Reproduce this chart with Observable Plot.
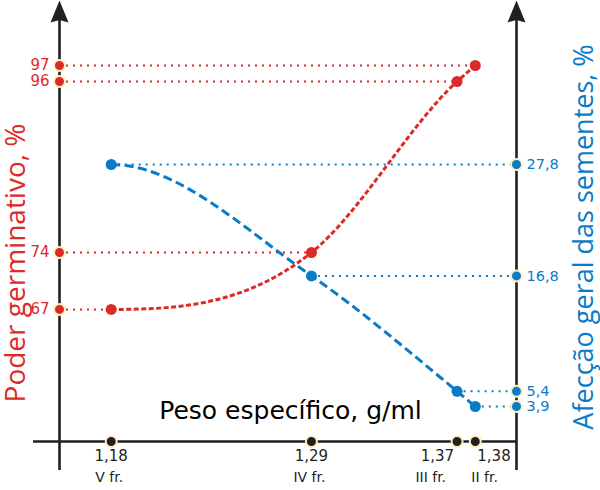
<!DOCTYPE html>
<html><head><meta charset="utf-8">
<script src="https://cdn.jsdelivr.net/npm/d3@7"></script>
<script src="https://cdn.jsdelivr.net/npm/@observablehq/plot@0.6"></script>
<style>body{margin:0;background:#fff}</style>
</head><body><div id="chart"></div>
<script>
// ---- data ----
const densities = [1.18, 1.29, 1.37, 1.38];
const densityLabels = ["1,18", "1,29", "1,37", "1,38"];
const fractions = ["V fr.", "IV fr.", "III fr.", "II fr."];
const germination = [67, 74, 96, 97];
const germinationLabels = ["67", "74", "96", "97"];
const affection = [27.8, 16.8, 5.4, 3.9];
const affectionLabels = ["27,8", "16,8", "5,4", "3,9"];
const xTitle = "Peso específico, g/ml";
const yLeftTitle = "Poder germinativo, %";
const yRightTitle = "Afecção geral das sementes, %";

// ---- styles ----
const RED = "#dc2a27", BLUE = "#0a7bc6", HALO = "#fbefc0", INK = "#231f20";
const FONT = "'DejaVu Sans', sans-serif";
const TFONT = "'Open Sans', sans-serif";

// ---- scales (the original drawing is not strictly to scale: piecewise left axis) ----
const xDomain = [1.15159, 1.40265], xRange = [59, 516];
const yKnots = [47.2, 74, 96, 101.06], yPx = [470, 252, 81, 0];
const rightDomain = [3.9, 27.8], rightPx = [406, 164];
const yScale = d3.scaleLinear().domain(yKnots).range(yPx);
const rightScale = d3.scaleLinear().domain(rightDomain).range(rightPx);
const toLeft = v => yScale.invert(rightScale(v));   // right-axis value -> left units
const xAxisLevel = yScale.invert(441);
const yArrowBase = yScale.invert(18);
const yBottom = yKnots[0], yTop = yKnots[yKnots.length - 1];
const xMin = xDomain[0], xMax = xDomain[1];
const xAxisStart = d3.scaleLinear().domain(xDomain).range(xRange).invert(33);

const rows = densities.map((d, i) => ({
  d, g: germination[i], a: toLeft(affection[i]),
  dl: densityLabels[i], fr: fractions[i], gl: germinationLabels[i], al: affectionLabels[i]
}));

const arrowSymbol = {
  draw(ctx) {
    ctx.moveTo(0, 0);
    ctx.lineTo(9, 22);
    ctx.lineTo(0, 19.5);
    ctx.lineTo(-9, 22);
    ctx.closePath();
  }
};

// smooth curve through the points: horizontal start, three-point slopes inside
function smoothCurve(context) {
  let pts;
  return {
    areaStart() {}, areaEnd() {},
    lineStart() { pts = []; },
    point(x, y) { pts.push([+x, +y]); },
    lineEnd() {
      const n = pts.length; if (!n) return;
      context.moveTo(pts[0][0], pts[0][1]);
      if (n === 1) return;
      const h = [], s = [];
      for (let i = 0; i < n - 1; i++) { h[i] = pts[i + 1][0] - pts[i][0]; s[i] = (pts[i + 1][1] - pts[i][1]) / h[i]; }
      const m = new Array(n);
      m[0] = 0; m[n - 1] = s[n - 2];
      for (let i = 1; i < n - 1; i++) m[i] = (h[i] * s[i - 1] + h[i - 1] * s[i]) / (h[i - 1] + h[i]);
      for (let i = 0; i < n - 1; i++) {
        const [x0, y0] = pts[i], [x1, y1] = pts[i + 1], k = h[i] / 3;
        context.bezierCurveTo(x0 + k, y0 + m[i] * k, x1 - k, y1 - m[i + 1] * k, x1, y1);
      }
    }
  };
}

const plot = Plot.plot({
  width: 600, height: 490,
  marginTop: 0, marginRight: 0, marginBottom: 0, marginLeft: 0,
  style: {fontFamily: FONT, background: "#fff", overflow: "visible"},
  x: {domain: xDomain, range: xRange, axis: null},
  // piecewise left axis: values are warped by yScale, then laid out linearly
  y: {transform: yScale, domain: [yPx[0], yPx[yPx.length - 1]], range: [yPx[0], yPx[yPx.length - 1]], axis: null},
  marks: [
    // guide lines
    Plot.ruleY(rows, {y: "g", x1: xMin, x2: "d", stroke: RED, strokeWidth: 2, strokeDasharray: "2,5", ariaLabel: "guide-red"}),
    Plot.ruleY(rows, {y: "a", x1: "d", x2: xMax, stroke: BLUE, strokeWidth: 2, strokeDasharray: "2,5", ariaLabel: "guide-blue"}),
    // axes
    Plot.ruleX([xMin, xMax], {y1: yBottom, y2: yArrowBase, stroke: INK, strokeWidth: 2.6}),
    Plot.ruleY([xAxisLevel], {x1: xAxisStart, x2: xMax, stroke: INK, strokeWidth: 2.6}),
    Plot.dot([xMin, xMax], {x: d => d, y: yTop, symbol: arrowSymbol, fill: INK, stroke: "none"}),
    // curves
    Plot.line(rows, {x: "d", y: "a", stroke: BLUE, strokeWidth: 3, strokeDasharray: "9,4.5", strokeLinecap: "butt", curve: smoothCurve}),
    Plot.line(rows, {x: "d", y: "g", stroke: RED, strokeWidth: 3, strokeDasharray: "5,2.5", strokeLinecap: "butt", curve: smoothCurve}),
    Plot.dot(rows, {x: "d", y: "a", r: 5.5, fill: BLUE}),
    Plot.dot(rows, {x: "d", y: "g", r: 5.5, fill: RED}),
    // axis dots
    Plot.dot(rows, {x: xMin, y: "g", r: 5.5, fill: RED, stroke: HALO, strokeWidth: 2}),
    Plot.dot(rows, {x: xMax, y: "a", r: 5.5, fill: BLUE, stroke: HALO, strokeWidth: 2}),
    Plot.dot(rows, {x: "d", y: xAxisLevel, r: 5.5, fill: INK, stroke: HALO, strokeWidth: 2}),
    // axis labels
    Plot.text(rows, {x: xMin, y: "g", text: "gl", textAnchor: "end", dx: -10, fill: RED, fontSize: 15}),
    Plot.text(rows, {x: xMax, y: "a", text: "al", textAnchor: "start", dx: 10, fill: BLUE, fontSize: 14.5}),
    Plot.text(rows.slice(0, 2), {x: "d", y: xAxisLevel, text: "dl", dy: 15, fill: INK, fontSize: 15}),
    Plot.text(rows.slice(2, 3), {x: "d", y: xAxisLevel, text: "dl", textAnchor: "end", dx: -3, dy: 15, fill: INK, fontSize: 15}),
    Plot.text(rows.slice(3, 4), {x: "d", y: xAxisLevel, text: "dl", textAnchor: "start", dx: 2, dy: 15, fill: INK, fontSize: 15}),
    Plot.text(rows.slice(0, 2), {x: "d", y: xAxisLevel, text: "fr", dx: -2, dy: 36, fill: INK, fontSize: 14}),
    Plot.text(rows.slice(2, 3), {x: "d", y: xAxisLevel, text: "fr", textAnchor: "end", dx: -11, dy: 36, fill: INK, fontSize: 14}),
    Plot.text(rows.slice(3, 4), {x: "d", y: xAxisLevel, text: "fr", textAnchor: "start", dx: -4, dy: 36, fill: INK, fontSize: 14}),
    // titles
    Plot.text([xTitle], {frameAnchor: "bottom", textAnchor: "middle", lineAnchor: "middle", dx: -10, dy: -80, text: d => d, fill: "#000", fontSize: 25, fontFamily: FONT}),
    Plot.text([yLeftTitle], {frameAnchor: "left", textAnchor: "middle", lineAnchor: "middle", dx: 16, dy: 17.5, rotate: -90, text: d => d, fill: RED, fontSize: 28, fontFamily: TFONT}),
    Plot.text([yRightTitle], {frameAnchor: "right", textAnchor: "middle", lineAnchor: "middle", dx: -16, dy: -8.5, rotate: -90, text: d => d, fill: BLUE, fontSize: 27, fontFamily: TFONT})
  ]
});

// fading gradients for the dotted guide lines
const svg = d3.select(plot);
const defs = svg.insert("defs", ":first-child");
function fade(label, color, fromAxisLeft) {
  svg.selectAll(`g[aria-label="${label}"] line`).each(function(_, i) {
    const ln = d3.select(this);
    const x1 = +ln.attr("x1"), x2 = +ln.attr("x2"), y = +ln.attr("y1");
    const id = `${label}-${i}`;
    const gr = defs.append("linearGradient").attr("id", id).attr("gradientUnits", "userSpaceOnUse")
      .attr("x1", x1).attr("x2", x2).attr("y1", y).attr("y2", y);
    gr.append("stop").attr("offset", 0).attr("stop-color", color).attr("stop-opacity", fromAxisLeft ? 1 : 0.04);
    gr.append("stop").attr("offset", 1).attr("stop-color", color).attr("stop-opacity", fromAxisLeft ? 0.04 : 1);
    ln.attr("stroke", `url(#${id})`);
  });
}
fade("guide-red", RED, true);
fade("guide-blue", BLUE, false);

document.getElementById("chart").appendChild(plot);
</script>
</body></html>
